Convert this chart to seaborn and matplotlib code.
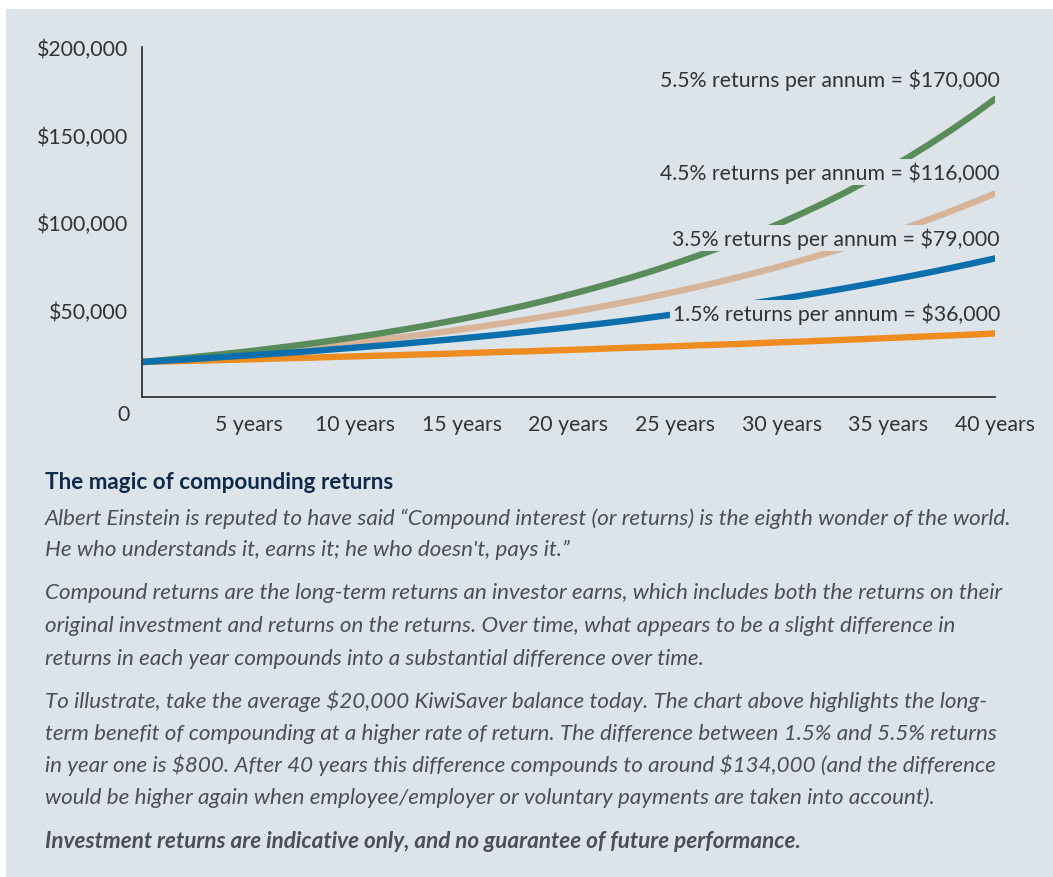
import seaborn as sns
import matplotlib.pyplot as plt
import matplotlib.patches as mpatches
import pandas as pd

# yearly balances of $20,000 at four rates of return
years = list(range(0, 41))
bal_55 = [20000, 21100, 22300, 23500, 24800, 26100, 27600, 29100, 30700, 32400,
          34200, 36000, 38000, 40100, 42300, 44600, 47100, 49700, 52400, 55300,
          58400, 61600, 65000, 68500, 72300, 76300, 80500, 84900, 89600, 94500,
          99700, 105200, 110900, 117000, 123500, 130300, 137400, 145000, 153000,
          161400, 170300]
bal_45 = [20000, 20900, 21800, 22800, 23900, 24900, 26000, 27200, 28400, 29700,
          31100, 32500, 33900, 35400, 37000, 38700, 40400, 42300, 44200, 46200,
          48200, 50400, 52700, 55000, 57500, 60100, 62800, 65600, 68600, 71700,
          74900, 78300, 81800, 85500, 89300, 93300, 97500, 101900, 106500,
          111300, 116300]
bal_35 = [20000, 20700, 21400, 22200, 23000, 23800, 24600, 25400, 26300, 27300,
          28200, 29200, 30200, 31300, 32400, 33500, 34700, 35900, 37200, 38500,
          39800, 41200, 42600, 44100, 45700, 47300, 48900, 50600, 52400, 54200,
          56100, 58100, 60100, 62200, 64400, 66700, 69000, 71400, 73900, 76500,
          79200]
bal_15 = [20000, 20300, 20600, 20900, 21200, 21500, 21900, 22200, 22500, 22900,
          23200, 23600, 23900, 24300, 24600, 25000, 25400, 25800, 26100, 26500,
          26900, 27300, 27800, 28200, 28600, 29000, 29500, 29900, 30300, 30800,
          31300, 31700, 32200, 32700, 33200, 33700, 34200, 34700, 35200, 35700,
          36300]

# drawing order: orange at the back, blue on top
series_names = ["1.5%", "4.5%", "5.5%", "3.5%"]
series_vals = [bal_15, bal_45, bal_55, bal_35]
series_colors = ["#ee8c1f", "#d7b397", "#5a8c5b", "#0b6ead"]

end_labels = ["5.5% returns per annum = $170,000", "4.5% returns per annum = $116,000",
              "3.5% returns per annum = $79,000", "1.5% returns per annum = $36,000"]
label_y = [181700, 128600, 90900, 48000]

x_ticks = [5, 10, 15, 20, 25, 30, 35, 40]
x_ticklabels = ["5 years", "10 years", "15 years", "20 years",
                "25 years", "30 years", "35 years", "40 years"]
y_ticks = [50000, 100000, 150000, 200000]
y_ticklabels = ["$50,000", "$100,000", "$150,000", "$200,000"]

title = "The magic of compounding returns"
body_lines = [
    "Albert Einstein is reputed to have said \u201cCompound interest (or returns) is the eighth wonder of the world.",
    "He who understands it, earns it; he who doesn't, pays it.\u201d",
    "Compound returns are the long-term returns an investor earns, which includes both the returns on their",
    "original investment and returns on the returns. Over time, what appears to be a slight difference in",
    "returns in each year compounds into a substantial difference over time.",
    "To illustrate, take the average $20,000 KiwiSaver balance today. The chart above highlights the long-",
    "term benefit of compounding at a higher rate of return. The difference between 1.5% and 5.5% returns",
    "in year one is $800. After 40 years this difference compounds to around $134,000 (and the difference",
    "would be higher again when employee/employer or voluntary payments are taken into account).",
]
body_y = [525, 556, 599, 632, 665, 708, 740, 772, 804]
footnote = "Investment returns are indicative only, and no guarantee of future performance."

bg = "#dce3e9"
ink = "#333333"

sns.set_theme(style="white")
plt.rcParams["font.family"] = ["Lato", "DejaVu Sans"]
plt.rcParams["text.parse_math"] = False

W, H = 1053, 878
fig = plt.figure(figsize=(W / 100, H / 100), dpi=100)
fig.patch.set_facecolor("white")
fig.patches.append(mpatches.Rectangle((6 / W, 0), 1 - 6 / W, 1 - 10 / H,
                                      transform=fig.transFigure, facecolor=bg,
                                      edgecolor="none", zorder=-10))

ax = fig.add_axes([142 / W, 1 - 398 / H, (995 - 142) / W, (398 - 48) / H])
ax.set_facecolor("none")

df = pd.DataFrame({"year": years * 4,
                   "balance": sum(series_vals, []),
                   "rate": sum([[n] * len(years) for n in series_names], [])})
for name, col in zip(series_names, series_colors):
    sns.lineplot(data=df[df["rate"] == name], x="year", y="balance", color=col,
                 linewidth=4.6, solid_capstyle="round", ax=ax, legend=False)

for txt, yy in zip(end_labels, label_y):
    ax.text(40.23, yy, txt, ha="right", va="center", fontsize=15.3, color=ink,
            bbox=dict(facecolor=bg, edgecolor="none", pad=1.5), zorder=5)

ax.set_xlim(0, 40)
ax.set_ylim(0, 200000)
ax.set_xticks(x_ticks)
ax.set_xticklabels(x_ticklabels)
ax.set_yticks(y_ticks)
ax.set_yticklabels(y_ticklabels)
ax.set_xlabel("")
ax.set_ylabel("")
ax.tick_params(axis="both", direction="in", length=9, width=1.3, color=ink,
               labelsize=15.3, labelcolor=ink)
ax.tick_params(axis="x", pad=12)
ax.tick_params(axis="y", pad=10)
for s in ["top", "right"]:
    ax.spines[s].set_visible(False)
for s in ["left", "bottom"]:
    ax.spines[s].set_color(ink)
    ax.spines[s].set_linewidth(1.3)

fig.text(124 / W, 1 - 415 / H, "0", ha="center", va="center", fontsize=15.3, color=ink)

fig.text(45 / W, 1 - 489 / H, title, ha="left", va="baseline", fontsize=16.2,
         fontweight="bold", color="#0e2a4b")
for line, yy in zip(body_lines, body_y):
    fig.text(45 / W, 1 - yy / H, line, ha="left", va="baseline", fontsize=16.1,
             fontstyle="italic", color="#4b4e53")
fig.text(45 / W, 1 - 848 / H, footnote, ha="left", va="baseline", fontsize=16.2,
         fontstyle="italic", fontweight="bold", color="#4b4e53")

fig.savefig("out.png", dpi=100, facecolor="white")
